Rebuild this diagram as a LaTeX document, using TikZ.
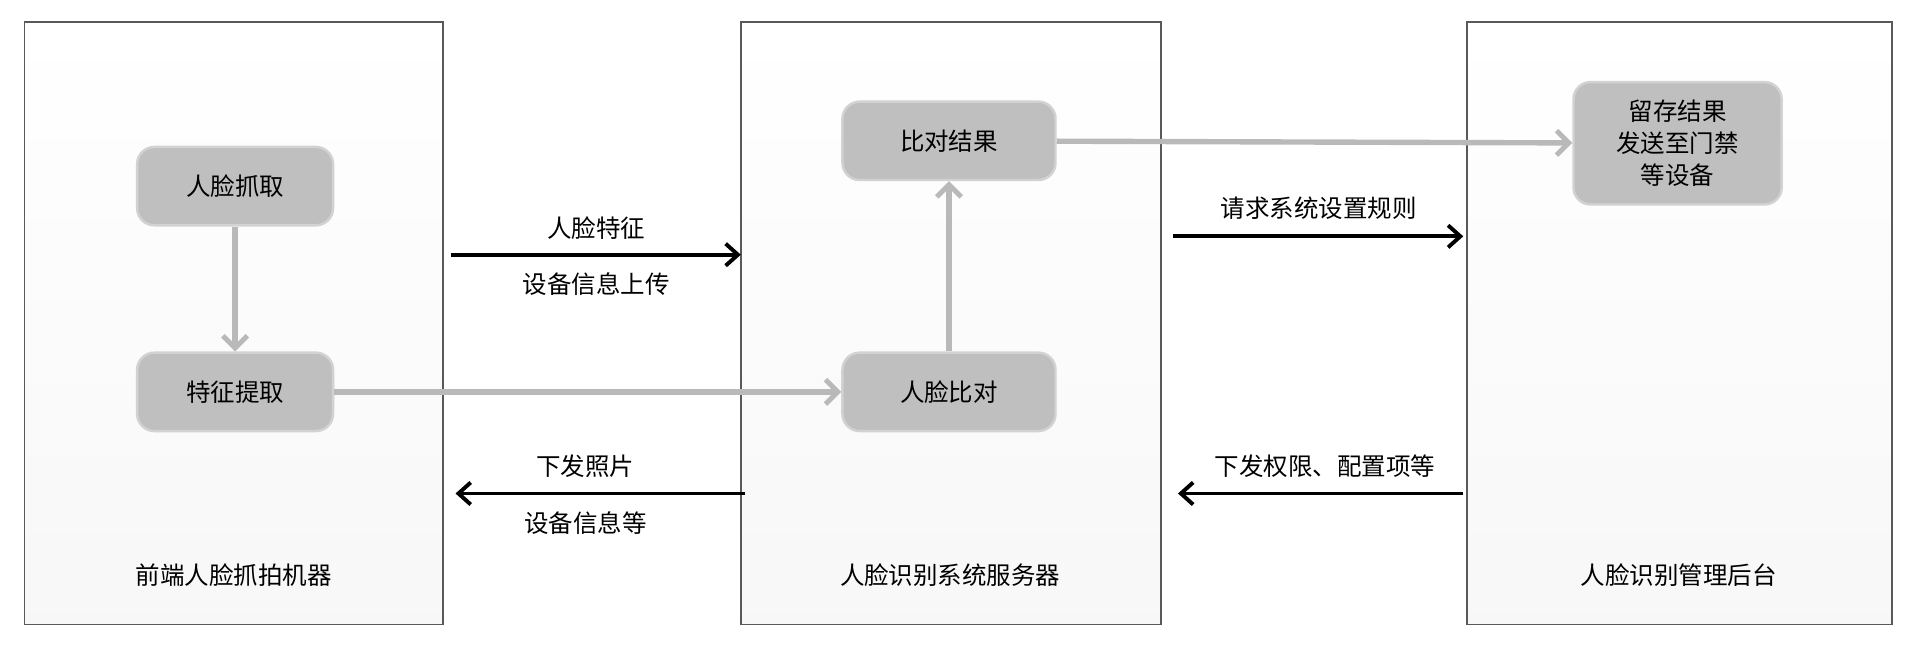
\documentclass[tikz,border=0pt]{standalone}
\usepackage{fontspec}
\setmainfont{Noto Sans CJK SC}
\usetikzlibrary{arrows.meta}
\begin{document}
\begin{tikzpicture}[x=0.5pt,y=-0.5pt,
  panel/.style={draw=gray!70!black,line width=0.8pt,top color=white,bottom color=gray!6},
  proc/.style={draw=gray!35,line width=1pt,fill=gray!50,rounded corners=7pt,font=\fontsize{10}{13}\selectfont,align=center},
  lbl/.style={font=\fontsize{10}{13}\selectfont},
  blk/.style={line width=1.6pt,-{Straight Barb[length=5pt,width=9pt,line width=1.6pt]}},
  gry/.style={line width=2.2pt,draw=gray!55,-{Straight Barb[length=5pt,width=10pt,line width=2pt]}}]
\useasboundingbox (0,0) rectangle (1568,527);
\fill[white] (0,0) rectangle (1568,527);
\draw[panel] (20,18) rectangle (362,510);
\draw[panel] (605,18) rectangle (948,510);
\draw[panel] (1198,18) rectangle (1545,510);
\node[lbl] (t1) at (191,470) {前端人脸抓拍机器};
\node[lbl] (t2) at (776,470) {人脸识别系统服务器};
\node[lbl] (t3) at (1371,470) {人脸识别管理后台};
\node[proc,minimum width=80pt,minimum height=32pt] (a) at (192,152) {人脸抓取};
\node[proc,minimum width=80pt,minimum height=32pt] (b) at (192,320) {特征提取};
\node[proc,minimum width=87pt,minimum height=32pt] (c) at (775,115) {比对结果};
\node[proc,minimum width=87pt,minimum height=32pt] (d) at (775,320) {人脸比对};
\node[proc,minimum width=85pt,minimum height=50pt,inner sep=2pt] (e) at (1370,117) {留存结果\\发送至门禁\\等设备};
\coordinate (p1) at (368,208); \coordinate (p2) at (605,208);
\coordinate (q1) at (608,403); \coordinate (q2) at (372,403);
\coordinate (r1) at (958,193); \coordinate (r2) at (1195,193);
\coordinate (s1) at (1195,403); \coordinate (s2) at (962,403);
\draw[blk] (p1) -- (p2);
\draw[blk] (q1) -- (q2);
\draw[blk] (r1) -- (r2);
\draw[blk] (s1) -- (s2);
\node[lbl] (l1) at (487,186) {人脸特征};
\node[lbl] (l2) at (487,232) {设备信息上传};
\node[lbl] (l3) at (478,381) {下发照片};
\node[lbl] (l4) at (478,427) {设备信息等};
\node[lbl] (l5) at (1077,170) {请求系统设置规则};
\node[lbl] (l6) at (1082,381) {下发权限、配置项等};
\draw[gry] (a) -- (b);
\draw[gry] (b) -- (d);
\draw[gry] (d) -- (c);
\draw[gry] (c) -- (e);
\end{tikzpicture}
\end{document}
